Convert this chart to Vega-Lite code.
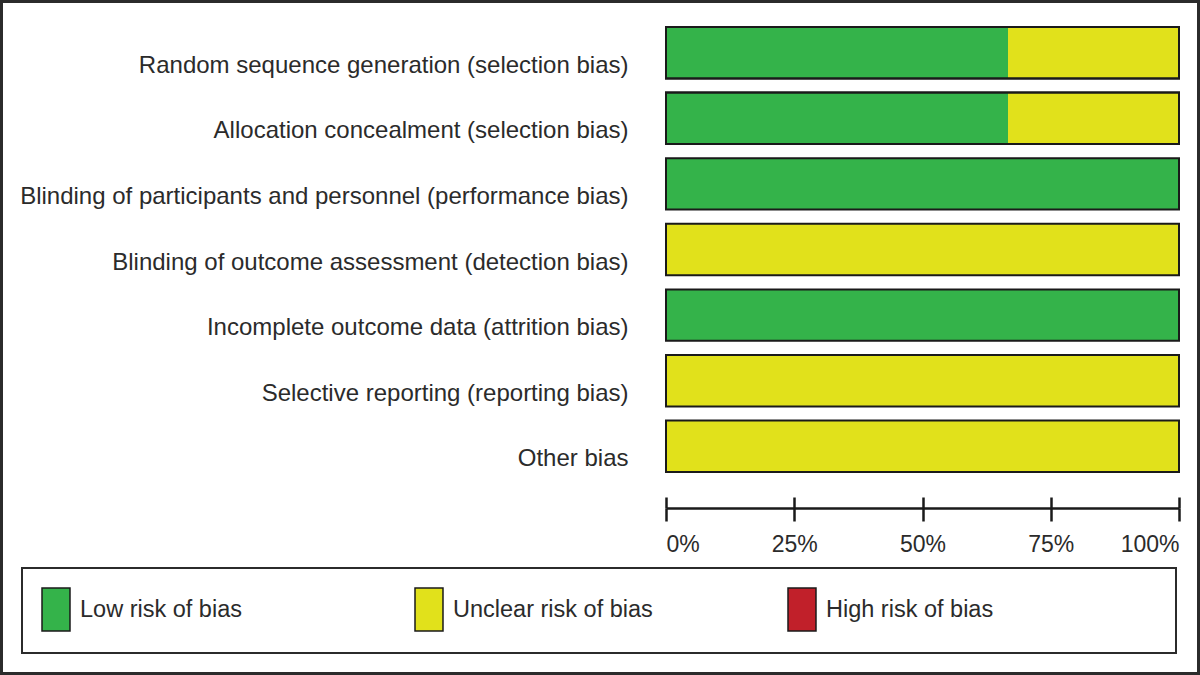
{
  "$schema": "https://vega.github.io/schema/vega-lite/v6.json",
  "width": 1200,
  "height": 675,
  "autosize": {"type": "none"},
  "padding": 0,
  "background": "white",
  "config": {
    "view": {"stroke": "#2b2b2b", "strokeWidth": 6, "fill": "white"},
    "font": "Liberation Sans, sans-serif"
  },
  "data": {
    "values": [
      {"domain": "Random sequence generation (selection bias)", "risk": "Low risk of bias", "share": 0.6667},
      {"domain": "Random sequence generation (selection bias)", "risk": "Unclear risk of bias", "share": 0.3333},
      {"domain": "Allocation concealment (selection bias)", "risk": "Low risk of bias", "share": 0.6667},
      {"domain": "Allocation concealment (selection bias)", "risk": "Unclear risk of bias", "share": 0.3333},
      {"domain": "Blinding of participants and personnel (performance bias)", "risk": "Low risk of bias", "share": 1},
      {"domain": "Blinding of outcome assessment (detection bias)", "risk": "Unclear risk of bias", "share": 1},
      {"domain": "Incomplete outcome data (attrition bias)", "risk": "Low risk of bias", "share": 1},
      {"domain": "Selective reporting (reporting bias)", "risk": "Unclear risk of bias", "share": 1},
      {"domain": "Other bias", "risk": "Unclear risk of bias", "share": 1}
    ]
  },
  "resolve": {"axis": {"x": "independent"}},
  "layer": [
    {
      "mark": {"type": "bar", "strokeWidth": 0},
      "encoding": {
        "y": {
          "field": "domain",
          "type": "nominal",
          "sort": null,
          "scale": {"range": [27, 472], "paddingInner": 0.216, "paddingOuter": 0},
          "axis": {
            "title": null,
            "orient": "left",
            "offset": -628,
            "ticks": false,
            "domain": false,
            "labelPadding": 0,
            "labelOffset": 13,
            "labelFontSize": 24,
            "labelColor": "#2b2b2b",
            "labelLimit": 800
          }
        },
        "x": {
          "field": "share",
          "type": "quantitative",
          "stack": "zero",
          "scale": {"domain": [0, 1], "range": [666, 1179], "nice": false},
          "axis": {
            "title": null,
            "orient": "bottom",
            "offset": -167,
            "values": [0, 0.25, 0.5, 0.75, 1],
            "format": ".0%",
            "grid": false,
            "domain": true,
            "domainColor": "#1a1a1a",
            "domainWidth": 2.5,
            "tickColor": "#1a1a1a",
            "tickWidth": 2.5,
            "tickSize": 13,
            "labelFlush": true,
            "labelPadding": 12,
            "labelFontSize": 23,
            "labelColor": "#2b2b2b"
          }
        },
        "color": {
          "field": "risk",
          "type": "nominal",
          "scale": {
            "domain": ["Low risk of bias", "Unclear risk of bias", "High risk of bias"],
            "range": ["#34b34a", "#e1e11b", "#c1202a"]
          },
          "legend": {
            "orient": "none",
            "legendX": 22,
            "legendY": 568,
            "direction": "horizontal",
            "gridAlign": "all",
            "columnPadding": 132,
            "padding": 19,
            "strokeColor": "#2b2b2b",
            "title": "·",
            "titleOrient": "right",
            "titleOpacity": 0,
            "titlePadding": 160,
            "symbolType": "M-1,-1H0.302V1H-1Z",
            "symbolSize": 1849,
            "symbolStrokeColor": "#1a1a1a",
            "symbolStrokeWidth": 1.5,
            "labelOffset": -6,
            "labelFontSize": 23.5,
            "labelColor": "#2b2b2b",
            "labelLimit": 400,
            "encode": {"legend": {"update": {"strokeWidth": {"value": 2}}}}
          }
        }
      }
    },
    {
      "mark": {"type": "bar", "fillOpacity": 0, "stroke": "#1a1a1a", "strokeWidth": 2},
      "encoding": {
        "y": {"field": "domain", "type": "nominal", "sort": null},
        "x": {
          "datum": 0,
          "type": "quantitative",
          "axis": {
            "title": null,
            "orient": "bottom",
            "offset": -167,
            "values": [0, 0.25, 0.5, 0.75, 1],
            "grid": false,
            "domain": false,
            "labels": false,
            "tickColor": "#1a1a1a",
            "tickWidth": 2.5,
            "tickSize": -11
          }
        },
        "x2": {"datum": 1}
      }
    }
  ]
}
